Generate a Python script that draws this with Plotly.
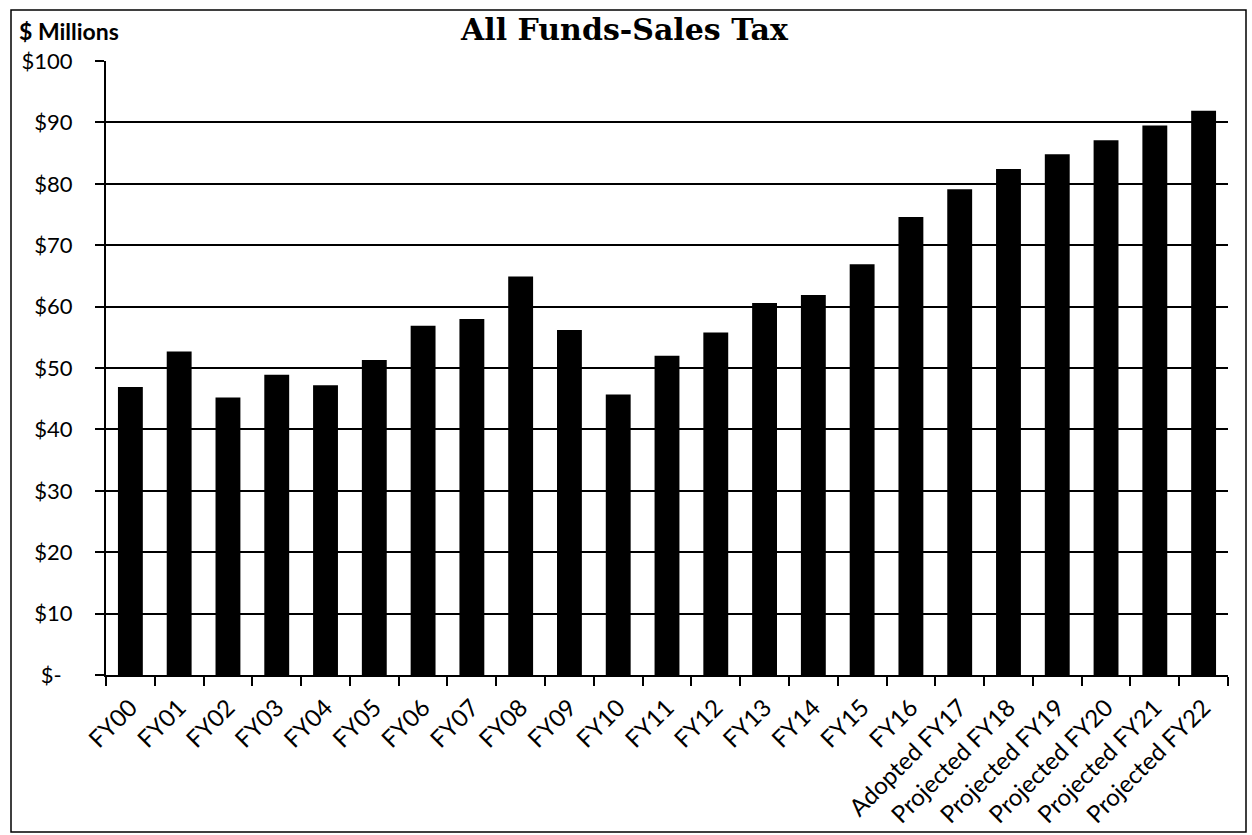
import plotly.graph_objects as go

# Fiscal years and sales-tax revenue (all funds), $ millions
categories = [
    "FY00", "FY01", "FY02", "FY03", "FY04", "FY05", "FY06", "FY07", "FY08",
    "FY09", "FY10", "FY11", "FY12", "FY13", "FY14", "FY15", "FY16",
    "Adopted FY17", "Projected FY18", "Projected FY19", "Projected FY20",
    "Projected FY21", "Projected FY22",
]
sales_tax = [
    46.9, 52.7, 45.2, 48.9, 47.2, 51.3, 56.9, 58.0, 64.9,
    56.2, 45.7, 52.0, 55.8, 60.6, 61.9, 66.9, 74.6,
    79.1, 82.4, 84.8, 87.1, 89.5, 91.9,
]
y_ticks = [0, 10, 20, 30, 40, 50, 60, 70, 80, 90, 100]
# accounting-style zero label keeps a little trailing padding
y_tick_labels = ["$-\u2002", "$10", "$20", "$30", "$40", "$50",
                 "$60", "$70", "$80", "$90", "$100"]

W, H = 1252, 835
L, R, T, B = 106, 24, 61, 160
plot_w = W - L - R
plot_h = H - T - B


def px_x(px):
    return (px - L) / plot_w


def px_y(py):
    return (H - B - py) / plot_h


sans = "Lato, Open Sans, sans-serif"

fig = go.Figure(
    go.Bar(
        x=categories,
        y=sales_tax,
        marker=dict(color="black", line=dict(width=0)),
        hoverinfo="x+y",
    )
)

fig.update_layout(
    width=W,
    height=H,
    margin=dict(l=L, r=R, t=T, b=B, autoexpand=False),
    paper_bgcolor="white",
    plot_bgcolor="white",
    bargap=0.49,
    showlegend=False,
    font=dict(family=sans, size=20, color="black"),
)

fig.update_xaxes(
    type="category",
    tickangle=-45,
    tickson="boundaries",
    ticks="outside",
    ticklen=9,
    tickwidth=2,
    tickcolor="black",
    ticklabelstandoff=7,
    showline=True,
    linecolor="black",
    linewidth=2,
    showgrid=False,
    tickfont=dict(family=sans, size=24, color="black"),
)

fig.update_yaxes(
    range=[0, 100],
    tickvals=y_ticks,
    ticktext=y_tick_labels,
    ticks="outside",
    ticklen=9,
    tickwidth=2,
    tickcolor="black",
    ticklabelstandoff=18,
    showline=True,
    linecolor="black",
    linewidth=2,
    showgrid=True,
    gridcolor="black",
    gridwidth=2,
    zeroline=False,
    tickfont=dict(family=sans, size=22, color="black"),
)

# Chart title and unit label
fig.add_annotation(
    text="<b>All Funds-Sales Tax</b>",
    xref="paper", yref="paper",
    x=px_x(624), y=px_y(30),
    xanchor="center", yanchor="middle",
    showarrow=False,
    font=dict(family="DejaVu Serif, Liberation Serif, serif", size=30, color="black"),
)
fig.add_annotation(
    text="<b>$ Millions</b>",
    xref="paper", yref="paper",
    x=px_x(17), y=px_y(31),
    xanchor="left", yanchor="middle",
    showarrow=False,
    font=dict(family=sans, size=23, color="black"),
)

# Outer chart frame
fig.add_shape(
    type="rect",
    xref="paper", yref="paper",
    x0=px_x(11), y0=px_y(832), x1=px_x(1246), y1=px_y(10),
    line=dict(color="black", width=1.5),
    fillcolor="rgba(0,0,0,0)",
    layer="below",
)

fig.write_html("out.html")
